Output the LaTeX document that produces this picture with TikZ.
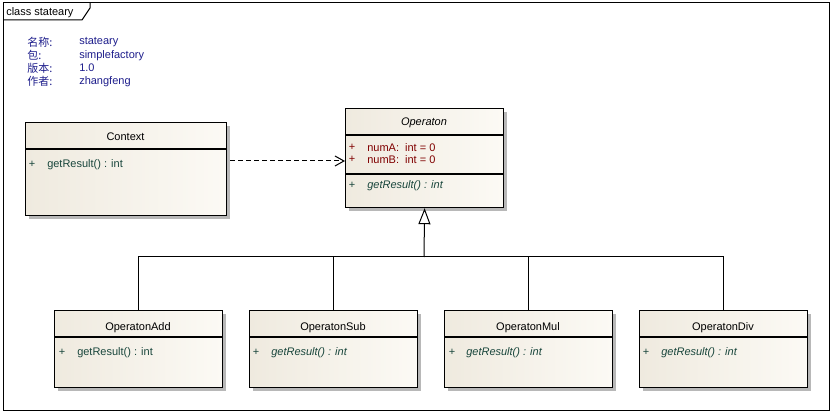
\documentclass[tikz,border=0pt]{standalone}
\usepackage{fontspec}
\setmainfont{Liberation Sans}
\newfontfamily\cjk{Noto Sans CJK SC}
\usetikzlibrary{arrows.meta,shadows}
\newdimen\px \px=0.75pt
\definecolor{metablue}{RGB}{30,30,140}
\definecolor{attrred}{RGB}{128,0,0}
\definecolor{methgreen}{RGB}{25,70,60}
\definecolor{boxl}{RGB}{239,234,223}
\definecolor{boxr}{RGB}{252,250,245}
\begin{document}
\begin{tikzpicture}[x=0.75pt,y=-0.75pt,
  font=\fontsize{8.25}{10}\selectfont,
  cls/.style={draw=black, line width=0.9pt, rectangle, anchor=north west, inner sep=0pt,
    left color=boxl, right color=boxr,
    drop shadow={shadow xshift=2.5pt, shadow yshift=-2.5pt, fill=black!28, opacity=1}},
  divider/.style={draw=black, line width=0.9pt},
  cname/.style={text=black, yshift=-0.9pt},
  meta/.style={anchor=west, text=metablue, inner sep=0pt, yshift=-0.9pt},
  attr/.style={anchor=west, text=attrred, inner sep=0pt, yshift=-0.9pt},
  meth/.style={anchor=west, text=methgreen, inner sep=0pt, yshift=-0.9pt},
  plusa/.style={text=attrred, inner sep=0pt, yshift=-0.9pt},
  plusm/.style={text=methgreen, inner sep=0pt, yshift=-0.9pt},
  conn/.style={draw=black, line width=0.75pt},
  dep/.style={conn, dash pattern=on 3.75pt off 2.25pt, -{Straight Barb[length=6.75pt,width=7.5pt]}},
  gen/.style={conn, -{Triangle[open, length=12pt, width=9pt, fill=white]}}
]
\useasboundingbox (0,0) rectangle (832,413);
\fill[white] (0,0) rectangle (832,413);
% frame
\draw[line width=0.75pt] (3,3) rectangle (829,410);
\draw[line width=0.75pt] (3,20) -- (82,20) -- (90,8) -- (90,3);
\node[anchor=west, inner sep=0pt, yshift=-0.6pt] (title) at (6,11.5) {class stateary};
% meta
\node[meta] (k1) at (27,41) {\cjk 名称:};
\node[meta] (k2) at (27,54) {\cjk 包:};
\node[meta] (k3) at (27,67) {\cjk 版本:};
\node[meta] (k4) at (27,80) {\cjk 作者:};
\node[meta] (v1) at (79,41) {stateary};
\node[meta] (v2) at (79,54) {simplefactory};
\node[meta] (v3) at (79,67) {1.0};
\node[meta] (v4) at (79,80) {zhangfeng};
% Context
\node[cls, minimum width=201\px, minimum height=93\px] (ctx) at (25,122) {};
\draw[divider] (25,149) -- (226,149);
\node[cname] (ctxn) at (125.5,136) {Context};
\node[plusm] (ctxp) at (32,163) {+};
\node[meth] (ctxm) at (47,163) {getResult() : int};
% Operaton
\node[cls, minimum width=158\px, minimum height=99\px] (op) at (345,108) {};
\draw[divider] (345,135) -- (503,135);
\draw[divider] (345,174) -- (503,174);
\node[cname] (opn) at (424,122) {\itshape Operaton};
\node[plusa] (opp1) at (352,146) {+};
\node[attr] (opa1) at (367,146) {numA:\ \ int = 0};
\node[plusa] (opp2) at (352,158) {+};
\node[attr] (opa2) at (367,158) {numB:\ \ int = 0};
\node[plusm] (opp3) at (352,184) {+};
\node[meth] (opm) at (367,184) {\itshape getResult() : int};
% subclasses
\node[cls, minimum width=168\px, minimum height=77\px] (add) at (54,310) {};
\draw[divider] (54,337) -- (222,337);
\node[cname] (addn) at (138,326) {OperatonAdd};
\node[plusm] (addp) at (62,351) {+};
\node[meth] (addm) at (77,351) {getResult() : int};

\node[cls, minimum width=168\px, minimum height=77\px] (sub) at (249,310) {};
\draw[divider] (249,337) -- (417,337);
\node[cname] (subn) at (333,326) {OperatonSub};
\node[plusm] (subp) at (256,351) {+};
\node[meth] (subm) at (271,351) {\itshape getResult() : int};

\node[cls, minimum width=168\px, minimum height=77\px] (mul) at (444,310) {};
\draw[divider] (444,337) -- (612,337);
\node[cname] (muln) at (528,326) {OperatonMul};
\node[plusm] (mulp) at (452,351) {+};
\node[meth] (mulm) at (466,351) {\itshape getResult() : int};

\node[cls, minimum width=168\px, minimum height=77\px] (div) at (639,310) {};
\draw[divider] (639,337) -- (807,337);
\node[cname] (divn) at (723,326) {OperatonDiv};
\node[plusm] (divp) at (646,351) {+};
\node[meth] (divm) at (661,351) {\itshape getResult() : int};
% connectors
\coordinate (j) at (424,257);
\draw[dep, shorten <=2.25pt] (ctx.east |- 0,161) -- (op.west |- 0,161);
\draw[gen] (j) -- (op.south);
\draw[conn] (add.north) -- (add.north |- j) -- (div.north |- j) -- (div.north);
\draw[conn] (sub.north) -- (sub.north |- j);
\draw[conn] (mul.north) -- (mul.north |- j);
\end{tikzpicture}
\end{document}
